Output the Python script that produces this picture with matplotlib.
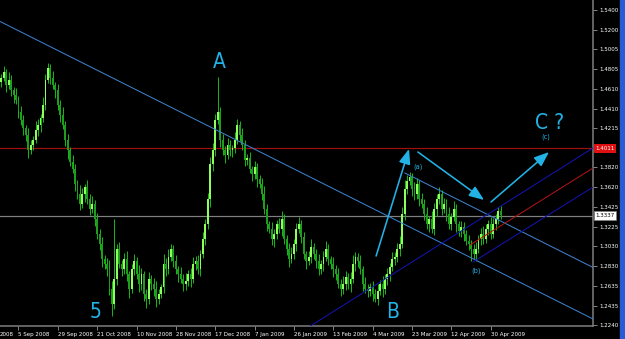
import numpy as np
import matplotlib
matplotlib.use('Agg')
import matplotlib.pyplot as plt
from matplotlib.transforms import blended_transform_factory

# daily closes
closes = [
    1.472, 1.478, 1.465, 1.470, 1.460, 1.455, 1.450, 1.438, 1.430, 1.422,
    1.415, 1.400, 1.405, 1.410, 1.420, 1.425, 1.432, 1.445, 1.470, 1.482,
    1.472, 1.465, 1.460, 1.445, 1.435, 1.425, 1.410, 1.400, 1.388, 1.380,
    1.365, 1.355, 1.345, 1.355, 1.362, 1.350, 1.340, 1.345, 1.330, 1.315,
    1.305, 1.290, 1.285, 1.280, 1.260, 1.245, 1.270, 1.300, 1.285, 1.280,
    1.290, 1.275, 1.260, 1.280, 1.288, 1.275, 1.265, 1.275, 1.255, 1.250,
    1.270, 1.265, 1.260, 1.250, 1.255, 1.262, 1.285, 1.280, 1.292, 1.300,
    1.288, 1.280, 1.275, 1.270, 1.265, 1.268, 1.275, 1.270, 1.285, 1.288,
    1.280, 1.295, 1.310, 1.325, 1.350, 1.385, 1.400, 1.430, 1.438, 1.410,
    1.400, 1.395, 1.405, 1.400, 1.402, 1.410, 1.425, 1.415, 1.405, 1.390,
    1.392, 1.380, 1.375, 1.382, 1.370, 1.365, 1.355, 1.340, 1.325, 1.320,
    1.310, 1.315, 1.325, 1.320, 1.330, 1.310, 1.300, 1.290, 1.295, 1.305,
    1.320, 1.325, 1.312, 1.295, 1.288, 1.292, 1.302, 1.295, 1.288, 1.280,
    1.285, 1.292, 1.300, 1.290, 1.285, 1.280, 1.275, 1.265, 1.260, 1.265,
    1.272, 1.265, 1.270, 1.285, 1.292, 1.288, 1.280, 1.265, 1.260, 1.258,
    1.262, 1.255, 1.250, 1.258, 1.265, 1.260, 1.270, 1.275, 1.282, 1.290,
    1.292, 1.300, 1.305, 1.335, 1.360, 1.368, 1.372, 1.360, 1.355, 1.365,
    1.350, 1.345, 1.335, 1.325, 1.330, 1.320, 1.340, 1.350, 1.355, 1.340,
    1.345, 1.335, 1.325, 1.332, 1.340, 1.325, 1.318, 1.322, 1.315, 1.308,
    1.305, 1.300, 1.295, 1.300, 1.310, 1.315, 1.310, 1.320, 1.325, 1.315,
    1.325, 1.330, 1.338, 1.334,
]
first_open = 1.468

# wick lengths above / below the body, in pips
wick_up = [
    40, 60, 30, 80, 50, 30, 70, 40, 60, 50,
    30, 70, 50, 40, 90, 60, 40, 80, 60, 50,
    40, 70, 30, 60, 50, 80, 40, 60, 30, 70,
    50, 40, 90, 60, 30, 70, 50, 80, 40, 60,
    50, 70, 40, 60, 90, 80, 600, 50, 70, 40,
    60, 80, 30, 50, 70, 40, 90, 60, 30, 50,
    70, 40, 60, 80, 50, 30, 100, 60, 80, 50,
    40, 60, 30, 70, 50, 80, 40, 60, 70, 50,
    60, 40, 70, 50, 60, 80, 70, 60, 350, 50,
    60, 40, 70, 50, 30, 80, 60, 40, 70, 50,
    40, 60, 30, 70, 50, 40, 60, 80, 50, 30,
    70, 50, 40, 60, 80, 50, 40, 60, 70, 50,
    60, 70, 40, 50, 30, 60, 80, 40, 50, 70,
    40, 60, 80, 50, 30, 70, 40, 60, 50, 80,
    60, 40, 70, 90, 50, 40, 60, 30, 70, 50,
    40, 60, 50, 70, 40, 80, 50, 60, 40, 70,
    50, 60, 80, 70, 90, 60, 50, 40, 70, 60,
    40, 60, 50, 70, 30, 80, 60, 50, 70, 40,
    60, 50, 70, 40, 80, 50, 30, 60, 50, 40,
    60, 40, 50, 70, 40, 60, 80, 50, 40, 70,
    60, 50, 40, 50,
]
wick_dn = [
    50, 30, 70, 40, 60, 80, 40, 60, 50, 70,
    60, 80, 40, 50, 30, 60, 70, 40, 50, 30,
    60, 40, 80, 50, 70, 40, 60, 90, 50, 40,
    70, 50, 60, 40, 80, 50, 60, 40, 70, 50,
    60, 80, 50, 70, 60, 120, 50, 60, 40, 70,
    50, 70, 90, 40, 60, 50, 80, 60, 70, 90,
    50, 60, 70, 80, 50, 40, 60, 70, 50, 40,
    60, 50, 80, 40, 70, 60, 50, 80, 40, 60,
    50, 70, 40, 60, 50, 80, 70, 60, 40, 70,
    50, 80, 40, 60, 70, 50, 40, 60, 50, 70,
    60, 40, 70, 50, 80, 40, 60, 50, 70, 40,
    60, 80, 50, 40, 70, 50, 60, 80, 40, 50,
    70, 40, 60, 50, 80, 40, 60, 50, 70, 60,
    50, 70, 40, 60, 50, 80, 60, 40, 70, 50,
    60, 50, 80, 40, 70, 60, 50, 70, 40, 60,
    50, 70, 30, 60, 40, 80, 50, 60, 70, 40,
    60, 50, 70, 40, 60, 50, 40, 70, 60, 50,
    70, 40, 60, 50, 80, 40, 60, 70, 50, 60,
    40, 70, 50, 60, 40, 80, 50, 60, 70, 40,
    60, 120, 50, 70, 40, 60, 50, 40, 60, 50,
    40, 60, 50, 40,
]

# time axis: one label every 16 bars
date_ticks = [7, 23, 39, 55, 71, 87, 103, 119, 135, 151, 167, 183, 199]
date_labels = ['5 Sep 2008', '29 Sep 2008', '21 Oct 2008', '10 Nov 2008',
               '28 Nov 2008', '17 Dec 2008', '7 Jan 2009', '26 Jan 2009',
               '13 Feb 2009', '4 Mar 2009', '23 Mar 2009', '12 Apr 2009',
               '30 Apr 2009']
price_ticks = [1.5400, 1.5200, 1.5005, 1.4805, 1.4610, 1.4410, 1.4215,
               1.3820, 1.3620, 1.3425, 1.3225, 1.3030, 1.2830, 1.2635,
               1.2435, 1.2240]

level_red = 1.4011
last_price = 1.3337

# drawn objects: (bar, price) anchor pairs
trend_long = [(-0.5, 1.5285), (240.6, 1.2300)]
trend_upper = [(164.1, 1.3765), (240.6, 1.2817)]
fork_upper = [(125.7, 1.2230), (240.6, 1.4016)]
fork_median = [(190.6, 1.3043), (240.6, 1.3815)]
fork_lower = [(191.8, 1.2872), (240.6, 1.3624)]
arrows = [((152.4, 1.2932), (165.8, 1.4006)),
          ((169.4, 1.3975), (196.3, 1.3494)),
          ((199.1, 1.3474), (222.7, 1.3975))]
waves = [('A', 88.5, 1.4878), ('5', 38.5, 1.2370),
         ('B', 159.3, 1.2370), ('C ?', 223.1, 1.4266)]
subwaves = [('(a)', 169.4, 1.3825), ('(b)', 193.0, 1.2782),
            ('(c)', 221.5, 1.4126)]

font = dict(family='DejaVu Sans', stretch='condensed')
cyan = '#22b2e6'
px = 0.72  # one pixel in points
small = 4.4

closes = np.array(closes)
opens = np.concatenate([[first_open], closes[:-1]])
highs = np.maximum(opens, closes) + np.array(wick_up) * 1e-4
lows = np.minimum(opens, closes) - np.array(wick_dn) * 1e-4
idx = np.arange(len(closes))

fig = plt.figure(figsize=(6.25, 3.39), dpi=100, facecolor='black')
ax = fig.add_axes([0, 13 / 339, 593 / 625, 326 / 339], facecolor='black')

# candles
up = closes >= opens
ax.vlines(idx, lows, highs, color='#14b414', lw=px, zorder=3)
ax.bar(idx[up], closes[up] - opens[up], bottom=opens[up], width=0.75,
       color='#8cff5a', lw=0, zorder=4)
ax.bar(idx[~up], opens[~up] - closes[~up], bottom=closes[~up], width=0.75,
       color='#1e9e1e', lw=0, zorder=4)

# levels
ax.axhline(level_red, color='#a01010', lw=1.2 * px, zorder=2)
ax.axhline(last_price, color='#808080', lw=1.2 * px, zorder=2)

for pts, col in [(trend_long, '#3a86d4'), (trend_upper, '#3a86d4'),
                 (fork_upper, '#1414b4'), (fork_median, '#b41414'),
                 (fork_lower, '#1414b4')]:
    (x0, y0), (x1, y1) = pts
    ax.plot([x0, x1], [y0, y1], color=col, lw=px, zorder=5)

for (x0, y0), (x1, y1) in arrows:
    ax.annotate('', xy=(x1, y1), xytext=(x0, y0), zorder=6,
                arrowprops=dict(arrowstyle='-|>,head_length=0.9,head_width=0.35',
                                color=cyan, lw=1.6 * px, shrinkA=0, shrinkB=0))

for txt, x, y in waves:
    ax.text(x, y, txt, color=cyan, fontsize=15, fontweight='light',
            ha='center', va='center', zorder=6, **font)
for txt, x, y in subwaves:
    ax.text(x, y, txt, color=cyan, fontsize=5.3,
            ha='center', va='center', zorder=6, **font)

ax.set_xlim(-0.49, 240.57)
ax.set_ylim(1.2230, 1.5500)

for s in ['left', 'top']:
    ax.spines[s].set_visible(False)
for s in ['right', 'bottom']:
    ax.spines[s].set_color('#808080')
    ax.spines[s].set_linewidth(1.5 * px)

ax.yaxis.tick_right()
ax.set_yticks(price_ticks)
ax.set_yticklabels(['%.4f' % p for p in price_ticks])
ax.set_xticks(date_ticks)
ax.set_xticklabels(date_labels)
for lbl in ax.get_xticklabels():
    lbl.set_ha('left')
ax.tick_params(colors='#808080', length=3, width=px, labelcolor='white',
               labelsize=small, pad=1.5)
for lbl in ax.get_xticklabels() + ax.get_yticklabels():
    lbl.set_stretch('condensed')

# label cut off at the left edge
tr = blended_transform_factory(ax.transData, ax.transAxes)
ax.text(-0.49, -0.026, '2008', transform=tr, color='white', fontsize=small,
        ha='left', va='center', clip_on=False, **font)

# price boxes on the right axis
tr2 = blended_transform_factory(ax.transAxes, ax.transData)
ax.text(1.004, level_red, '%.4f' % level_red, transform=tr2, color='white',
        fontsize=small, va='center', ha='left', clip_on=False, **font,
        bbox=dict(boxstyle='square,pad=0.3', fc='#e01010', ec='none'))
ax.text(1.004, last_price, '%.4f' % last_price, transform=tr2, color='black',
        fontsize=small, va='center', ha='left', clip_on=False, **font,
        bbox=dict(boxstyle='square,pad=0.3', fc='white', ec='#808080', lw=0.5))

# window border on the right
fig.patches.append(plt.Rectangle((620 / 625, 0), 5 / 625, 1, color='#2a5bd7',
                                 transform=fig.transFigure, figure=fig))

fig.savefig('out.png', dpi=100, facecolor='black')
